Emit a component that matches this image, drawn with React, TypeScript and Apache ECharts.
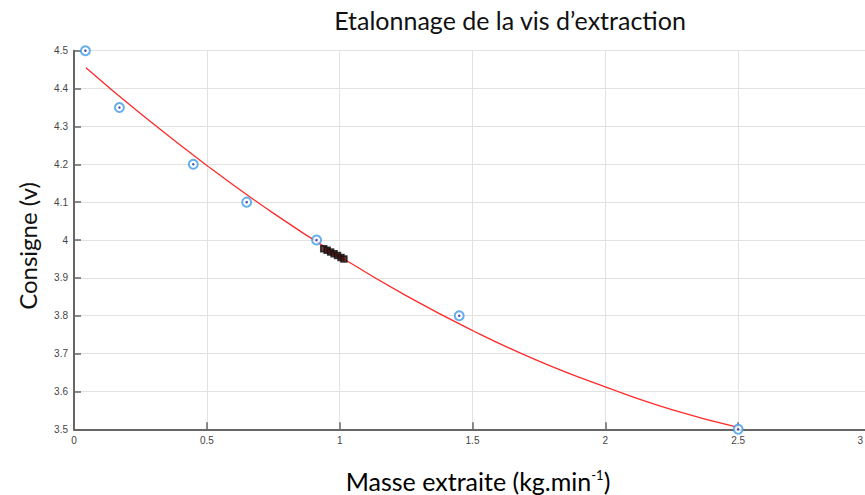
import React, { useEffect, useRef } from "react";
import * as echarts from "echarts";

const titleText = "Etalonnage de la vis d’extraction";
const yAxisTitle = "Consigne (v)";

// measured calibration points (x: kg/min, y: V)
const measuredX = [0.043, 0.171, 0.449, 0.65, 0.913, 1.45, 2.5];
const measuredY = [4.5, 4.35, 4.2, 4.1, 4.0, 3.8, 3.5];

// cluster of dark square points
const clusterX = [0.94, 0.953, 0.966, 0.979, 0.992, 1.005, 1.016];
const clusterY = [3.977, 3.973, 3.968, 3.964, 3.959, 3.954, 3.95];

// red fitted curve
const curveX = [0.045, 0.25, 0.5, 0.75, 1.0, 1.25, 1.5, 1.75, 2.0, 2.25, 2.5];
const curveY = [4.455, 4.334, 4.197, 4.071, 3.957, 3.853, 3.761, 3.68, 3.612, 3.552, 3.505];

export default function App() {
  const ref = useRef<HTMLDivElement>(null);
  useEffect(() => {
    if (!ref.current) return;
    const chart = echarts.init(ref.current, null, { renderer: "svg" });
    const measured = measuredX.map((x, i) => [x, measuredY[i]]);
    const cluster = clusterX.map((x, i) => [x, clusterY[i]]);
    const curve = curveX.map((x, i) => [x, curveY[i]]);
    const tickLabel = { color: "#444", fontSize: 10, fontFamily: "Liberation Sans, Arial, sans-serif" };
    const font = "Lato, 'Open Sans', sans-serif";
    chart.setOption({
      animation: false,
      backgroundColor: "#fff",
      grid: {
        left: 74,
        top: 50.7,
        width: 797,
        height: 378.6,
        containLabel: false,
        outerBoundsMode: "none",
      },
      xAxis: {
        type: "value",
        min: 0,
        max: 3,
        interval: 0.5,
        axisLine: { show: true, lineStyle: { color: "#666", width: 2 } },
        axisTick: { show: true, inside: true, length: 7, lineStyle: { color: "#666", width: 1.5 } },
        axisLabel: {
          ...tickLabel,
          margin: 6,
          alignMaxLabel: "right",
          formatter: (v: number) => (v >= 3 ? "{e|3}" : String(v)),
          rich: { e: { ...tickLabel, padding: [0, 8, 0, 0] } },
        },
        splitLine: { show: true, lineStyle: { color: "#e2e2e2", width: 1 } },
      },
      yAxis: {
        type: "value",
        min: 3.5,
        max: 4.5,
        interval: 0.1,
        axisLine: { show: true, lineStyle: { color: "#666", width: 2 } },
        axisTick: { show: true, inside: true, length: 7, lineStyle: { color: "#666", width: 1.5 } },
        axisLabel: { ...tickLabel, margin: 6, formatter: (v: number) => String(Math.round(v * 10) / 10) },
        splitLine: { show: true, lineStyle: { color: "#e2e2e2", width: 1 } },
      },
      graphic: [
        {
          type: "text",
          x: 510,
          y: 20,
          style: {
            text: titleText,
            font: `25px ${font}`,
            fill: "#111",
            textAlign: "center",
            textVerticalAlign: "middle",
          },
        },
        {
          type: "text",
          x: 27,
          y: 246,
          rotation: Math.PI / 2,
          style: {
            text: yAxisTitle,
            font: `24px ${font}`,
            fill: "#111",
            textAlign: "center",
            textVerticalAlign: "middle",
          },
        },
        {
          type: "text",
          x: 478,
          y: 481,
          style: {
            text: "{m|Masse extraite (kg.min}{s|-1}{m|)}",
            textAlign: "center",
            textVerticalAlign: "middle",
            rich: {
              m: { fontSize: 25, fontFamily: font, color: "#111" },
              s: { fontSize: 13, fontFamily: font, color: "#111", verticalAlign: "top", padding: [0, 0, 12, 0] },
            },
          },
        },
      ],
      series: [
        {
          type: "line",
          data: curve,
          smooth: true,
          showSymbol: false,
          symbol: "none",
          lineStyle: { color: "#ff2a2a", width: 1.3 },
          z: 2,
        },
        {
          type: "scatter",
          data: cluster,
          symbol: "rect",
          symbolSize: 6,
          itemStyle: { color: "#4a1010", borderColor: "#111", borderWidth: 1.5 },
          z: 3,
        },
        {
          type: "scatter",
          data: measured,
          symbol: "circle",
          symbolSize: 9,
          itemStyle: { color: "#fff", borderColor: "#3f9be6", borderWidth: 2 },
          z: 4,
        },
        {
          type: "scatter",
          data: measured,
          symbol: "circle",
          symbolSize: 2.5,
          itemStyle: { color: "#1a2a9a" },
          z: 5,
        },
      ],
    });
    return () => chart.dispose();
  }, []);
  return (
    <div
      ref={ref}
      style={{ position: "fixed", left: 0, top: 0, width: 865, height: 495, background: "#fff" }}
    />
  );
}
